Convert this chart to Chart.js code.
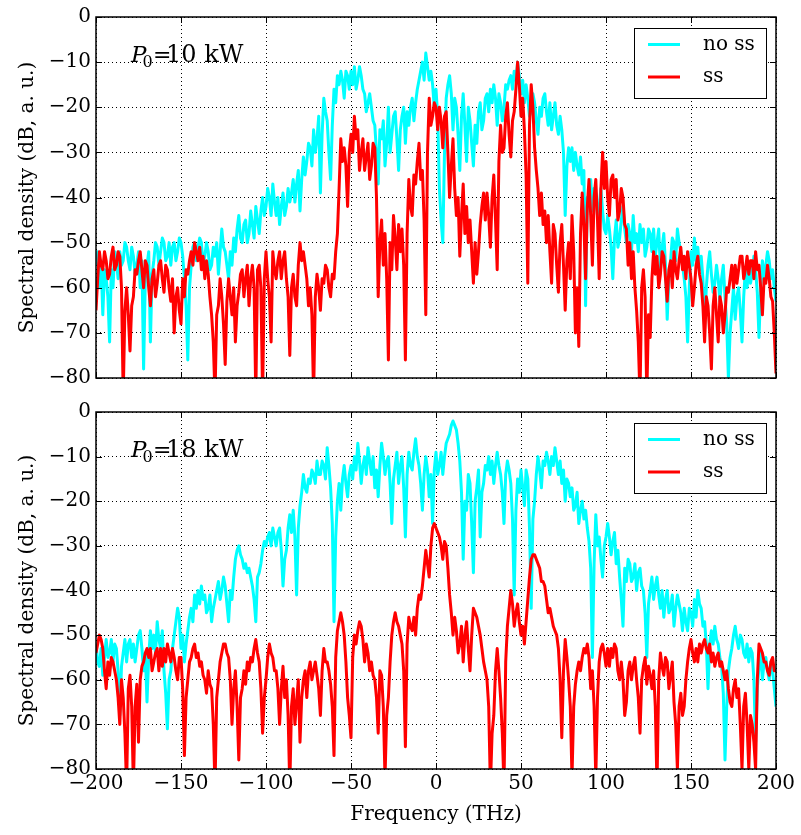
<!DOCTYPE html>
<html>
<head>
<meta charset="utf-8">
<script src="https://cdn.jsdelivr.net/npm/chart.js@4.4.0/dist/chart.umd.min.js"></script>
<style>
  html, body { margin: 0; padding: 0; background: #fff; }
  #wrap { position: relative; width: 801px; height: 835px; }
  canvas { position: absolute; left: 0; }
  #top { top: 0; }
  #bottom { top: 395px; }
</style>
</head>
<body>
<div id="wrap">
  <canvas id="top" width="801" height="395"></canvas>
  <canvas id="bottom" width="801" height="440"></canvas>
</div>
<script>
/* ------------------------------------------------------------
   DATA  (dB, every 1 THz, -200 .. 200)
   one row = 10 THz
------------------------------------------------------------ */
const freqTHz = [];
for (let f = -200; f <= 200; f++) freqTHz.push(f);

const xTicks = [-200, -150, -100, -50, 0, 50, 100, 150, 200];
const yTicks = [0, -10, -20, -30, -40, -50, -60, -70, -80];
const seriesNames = ["no ss", "ss"];
const powerLabels = ["10 kW", "18 kW"];

// P0 = 10 kW, without self-steepening
const noSS10kW = [
  -55, -52, -60, -54, -66, -56, -58, -62, -72, -56,
  -60, -52, -54, -58, -52, -55, -54, -50, -51, -54,
  -56, -51, -53, -57, -55, -52, -60, -54, -78, -58,
  -55, -52, -72, -57, -54, -50, -51, -55, -52, -49,
  -50, -54, -53, -50, -55, -51, -50, -54, -52, -49,
  -50, -53, -58, -64, -76, -60, -55, -51, -50, -54,
  -51, -49, -50, -55, -53, -50, -52, -56, -55, -51,
  -53, -50, -57, -52, -47, -51, -52, -55, -58, -52,
  -55, -49, -52, -47, -44, -49, -50, -46, -45, -50,
  -48, -43, -46, -49, -42, -45, -48, -43, -40, -44,
  -42, -38, -40, -44, -37, -41, -44, -40, -46, -42,
  -39, -44, -42, -38, -41, -39, -36, -41, -37, -34,
  -43, -36, -31, -35, -32, -28, -29, -33, -25, -30,
  -27, -22, -39, -26, -18, -21, -23, -30, -36, -24,
  -16, -19, -13, -15, -12, -14, -18, -12, -13, -16,
  -12, -15, -11, -16, -14, -11, -13, -16, -17, -21,
  -19, -17, -20, -23, -24, -30, -37, -25, -27, -23,
  -33, -28, -20, -30, -26, -22, -21, -27, -34, -25,
  -22, -20, -28, -21, -24, -20, -18, -23, -19, -16,
  -14, -12, -10, -14, -8, -11, -14, -12, -15, -20,
  -16, -22, -38, -45, -50, -30, -18, -15, -13, -17,
  -25, -18, -20, -26, -34, -22, -17, -24, -32, -20,
  -23, -28, -33, -24, -28, -21, -19, -25, -23, -18,
  -17, -21, -16, -19, -15, -18, -24, -17, -19, -23,
  -20, -15, -16, -14, -13, -16, -12, -14, -10, -13,
  -17, -14, -19, -15, -18, -22, -21, -17, -19, -23,
  -26, -20, -22, -18, -17, -21, -24, -19, -25, -22,
  -19, -24, -26, -22, -25, -30, -44, -33, -29, -32,
  -29, -34, -30, -33, -35, -31, -37, -34, -64, -40,
  -41, -36, -43, -38, -39, -44, -42, -38, -43, -47,
  -48, -44, -47, -51, -58, -49, -45, -51, -49, -45,
  -42, -47, -50, -46, -48, -52, -44, -50, -48, -52,
  -46, -50, -47, -53, -51, -47, -48, -52, -47, -53,
  -50, -47, -56, -51, -48, -55, -67, -58, -54, -49,
  -50, -54, -47, -50, -52, -55, -58, -62, -72, -60,
  -52, -55, -49, -54, -51, -56, -53, -58, -69, -60,
  -55, -52, -57, -61, -59, -55, -58, -63, -58, -55,
  -62, -68, -80, -70, -65, -60, -67, -62, -60, -65,
  -72, -62, -56, -60, -55, -59, -57, -53, -56, -61,
  -71, -60, -54, -58, -55, -52, -54, -58, -56, -60,
  -63
];

// P0 = 10 kW, with self-steepening
const ss10kW = [
  -65, -58, -52, -55, -56, -52, -54, -58, -57, -53,
  -51, -56, -55, -52, -53, -60, -84, -65, -60, -66,
  -74, -64, -62, -56, -57, -54, -52, -56, -60, -54,
  -55, -60, -64, -58, -56, -62, -59, -55, -54, -58,
  -61, -55, -56, -60, -63, -58, -70, -62, -60, -65,
  -68, -58, -62, -56, -57, -54, -52, -55, -50, -52,
  -54, -51, -56, -53, -58, -54, -57, -62, -66, -72,
  -84, -66, -64, -58, -62, -68, -77, -63, -58, -62,
  -66, -60, -72, -64, -61, -57, -56, -62, -58, -55,
  -64, -58, -55, -60, -84, -56, -55, -60, -84, -58,
  -52, -58, -62, -72, -52, -56, -58, -54, -52, -58,
  -54, -52, -58, -62, -75, -60, -57, -62, -64, -55,
  -50, -54, -52, -55, -58, -64, -60, -66, -84, -62,
  -57, -60, -65, -58, -59, -55, -56, -60, -62, -57,
  -58, -52, -48, -38, -27, -32, -29, -33, -42, -30,
  -26, -30, -22, -27, -25, -34, -30, -27, -34, -31,
  -28, -36, -33, -28, -29, -40, -62, -50, -45, -55,
  -48, -58, -76, -50, -56, -44, -49, -56, -46, -52,
  -47, -55, -76, -48, -36, -42, -44, -35, -37, -32,
  -28, -36, -34, -45, -66, -30, -18, -24, -22, -19,
  -20, -25, -20, -23, -29, -22, -21, -30, -40, -33,
  -27, -38, -44, -40, -53, -44, -37, -48, -42, -50,
  -45, -52, -59, -50, -57, -52, -46, -42, -39, -45,
  -39, -44, -51, -40, -35, -45, -56, -32, -24, -30,
  -29, -22, -19, -26, -31, -23, -21, -16, -10, -15,
  -22, -18, -25, -35, -59, -24, -15, -20, -29, -34,
  -38, -44, -39, -46, -43, -50, -44, -52, -59, -46,
  -48, -55, -61, -50, -46, -55, -65, -54, -50, -58,
  -44, -52, -70, -60, -73, -48, -39, -46, -58, -42,
  -36, -44, -55, -40, -36, -45, -58, -38, -30, -38,
  -32, -40, -44, -36, -35, -40, -36, -45, -43, -38,
  -40, -46, -47, -55, -50, -58, -52, -60, -65, -72,
  -84, -60, -56, -62, -84, -66, -71, -58, -52, -57,
  -53, -60, -57, -52, -53, -58, -63, -56, -54, -60,
  -52, -56, -58, -54, -51, -56, -53, -58, -52, -55,
  -58, -64, -60, -55, -53, -57, -59, -64, -72, -62,
  -64, -70, -78, -64, -60, -66, -72, -62, -64, -70,
  -66, -60, -61, -58, -55, -60, -55, -59, -56, -53,
  -53, -58, -56, -53, -57, -54, -54, -58, -52, -56,
  -55, -60, -66, -58, -59, -55, -58, -62, -63, -70,
  -79
];

// P0 = 18 kW, without self-steepening
const noSS18kW = [
  -52, -56, -57, -53, -59, -55, -51, -55, -54, -51,
  -56, -52, -53, -58, -68, -57, -54, -51, -56, -52,
  -51, -55, -52, -56, -53, -50, -49, -53, -58, -54,
  -65, -55, -49, -53, -50, -54, -47, -51, -53, -49,
  -58, -63, -71, -60, -58, -53, -50, -47, -44, -46,
  -53, -50, -56, -52, -49, -46, -44, -47, -41, -44,
  -40, -43, -39, -42, -41, -45, -44, -41, -47, -44,
  -42, -40, -38, -42, -40, -37, -39, -43, -47, -40,
  -42, -37, -33, -31, -30, -32, -33, -35, -34, -36,
  -35, -37, -39, -42, -47, -37, -36, -34, -31, -29,
  -30, -28, -27, -30, -26, -28, -30, -27, -26, -31,
  -39, -33, -31, -26, -23, -27, -22, -28, -41, -26,
  -21, -18, -14, -17, -18, -15, -16, -13, -14, -16,
  -11, -14, -14, -11, -12, -15, -8, -12, -17, -25,
  -47, -28, -20, -16, -22, -15, -12, -16, -19, -14,
  -12, -15, -10, -13, -7, -11, -16, -12, -10, -14,
  -8, -11, -14, -10, -17, -13, -19, -12, -7, -10,
  -14, -11, -10, -16, -25, -15, -12, -9, -16, -12,
  -10, -17, -28, -14, -9, -12, -13, -9, -6, -10,
  -12, -16, -22, -14, -10, -13, -19, -14, -25, -13,
  -9, -14, -12, -9, -14, -10, -7, -6, -5, -3,
  -2, -3, -4, -7, -11, -18, -33, -20, -22, -14,
  -16, -25, -36, -20, -17, -13, -28, -18, -16, -12,
  -13, -10, -14, -11, -16, -12, -9, -12, -14, -18,
  -25, -14, -11, -13, -16, -24, -41, -22, -15, -18,
  -13, -17, -21, -13, -15, -26, -44, -24, -20, -14,
  -10, -13, -17, -11, -12, -9, -11, -14, -10, -12,
  -8, -11, -14, -11, -16, -13, -20, -15, -16, -19,
  -17, -22, -21, -18, -25, -22, -20, -24, -22, -26,
  -29, -35, -55, -34, -23, -30, -28, -33, -37, -30,
  -28, -25, -28, -32, -29, -27, -34, -31, -37, -42,
  -48, -35, -38, -33, -34, -38, -37, -34, -40, -36,
  -35, -39, -40, -45, -55, -43, -40, -37, -42, -39,
  -37, -41, -44, -40, -46, -42, -40, -45, -44, -41,
  -48, -44, -41, -43, -45, -49, -44, -47, -49, -44,
  -45, -48, -42, -46, -40, -43, -44, -48, -47, -52,
  -62, -52, -49, -52, -48, -51, -52, -55, -57, -63,
  -78, -66, -58, -55, -53, -50, -48, -51, -53, -50,
  -51, -54, -55, -52, -56, -53, -54, -60, -74, -62,
  -57, -54, -60, -56, -55, -58, -60, -56, -58, -62,
  -66
];

// P0 = 18 kW, with self-steepening
const ss18kW = [
  -54, -52, -50, -51, -53, -58, -62, -56, -59, -55,
  -56, -58, -60, -64, -70, -60, -64, -72, -84, -62,
  -59, -66, -84, -66, -61, -74, -60, -57, -56, -54,
  -53, -55, -53, -58, -56, -54, -53, -58, -53, -57,
  -53, -56, -52, -54, -56, -53, -55, -58, -60, -55,
  -55, -62, -77, -64, -60, -56, -55, -53, -52, -55,
  -54, -57, -56, -59, -60, -63, -58, -61, -62, -70,
  -84, -64, -60, -56, -54, -52, -52, -54, -55, -60,
  -70, -62, -58, -66, -78, -64, -62, -58, -61, -56,
  -58, -55, -56, -53, -51, -54, -56, -62, -72, -64,
  -60, -55, -52, -54, -55, -58, -58, -62, -70, -62,
  -57, -64, -60, -68, -84, -66, -62, -70, -65, -60,
  -74, -64, -60, -58, -64, -58, -56, -60, -58, -56,
  -59, -62, -68, -58, -53, -56, -56, -58, -61, -66,
  -77, -55, -49, -47, -45, -47, -50, -56, -64, -68,
  -73, -55, -50, -52, -49, -47, -48, -51, -56, -52,
  -54, -58, -56, -59, -60, -64, -72, -58, -59, -66,
  -82, -68, -64, -56, -50, -47, -45, -47, -48, -50,
  -52, -58, -75, -52, -46, -48, -49, -46, -50, -44,
  -41, -42, -39, -35, -31, -34, -37, -30, -26, -25,
  -26, -27, -28, -30, -33, -29, -30, -35, -41, -45,
  -50, -46, -49, -54, -52, -48, -56, -50, -47, -53,
  -58, -50, -44, -45, -46, -48, -50, -53, -56, -58,
  -60, -66, -84, -72, -68, -58, -53, -58, -64, -72,
  -84, -56, -48, -44, -40, -43, -48, -45, -43, -47,
  -50, -48, -52, -47, -42, -37, -33, -32, -32, -33,
  -34, -35, -38, -38, -39, -42, -45, -44, -46, -48,
  -49, -50, -53, -60, -73, -58, -51, -55, -60, -66,
  -82, -66, -61, -58, -56, -58, -55, -53, -54, -52,
  -55, -62, -58, -66, -82, -64, -56, -53, -52, -54,
  -57, -53, -57, -53, -55, -52, -53, -58, -60, -56,
  -60, -68, -65, -58, -56, -60, -57, -55, -60, -64,
  -72, -60, -57, -55, -61, -57, -59, -62, -58, -66,
  -84, -60, -54, -57, -59, -55, -56, -62, -59, -56,
  -65, -70, -80, -66, -63, -68, -66, -60, -56, -53,
  -51, -54, -56, -53, -56, -52, -54, -52, -51, -53,
  -54, -52, -56, -54, -57, -55, -54, -57, -56, -58,
  -60, -58, -62, -65, -66, -62, -60, -64, -62, -70,
  -80, -66, -63, -70, -80, -68, -70, -74, -80, -60,
  -52, -53, -54, -56, -56, -58, -59, -56, -55, -58,
  -58
];

/* ------------------------------------------------------------
   STYLE
------------------------------------------------------------ */
const SERIF = "'DejaVu Serif', serif";
const CYAN = "#00ffff";
const RED = "#ff0000";

function fmtTick(v) {
  return v < 0 ? "\u2212" + Math.abs(v) : String(v);
}

/* ------------------------------------------------------------
   FRAME, INWARD TICKS, LEGEND BOX, POWER LABEL
------------------------------------------------------------ */
function decorPlugin(power) {
  return {
    id: "decor",
    afterDraw(chart) {
      const { ctx, chartArea: a, scales } = chart;
      ctx.save();

      // inward tick marks on all four sides
      ctx.strokeStyle = "#000";
      ctx.lineWidth = 1;
      ctx.beginPath();
      xTicks.forEach(v => {
        const px = Math.round(scales.x.getPixelForValue(v)) + 0.5;
        ctx.moveTo(px, a.bottom); ctx.lineTo(px, a.bottom - 6);
        ctx.moveTo(px, a.top); ctx.lineTo(px, a.top + 6);
      });
      yTicks.forEach(v => {
        const py = Math.round(scales.y.getPixelForValue(v)) + 0.5;
        ctx.moveTo(a.left, py); ctx.lineTo(a.left + 6, py);
        ctx.moveTo(a.right, py); ctx.lineTo(a.right - 6, py);
      });
      ctx.stroke();

      // frame
      ctx.lineWidth = 1.5;
      ctx.strokeRect(a.left, a.top, a.right - a.left, a.bottom - a.top);

      // legend box
      const bx = a.right - 142, by = a.top + 11, bw = 132, bh = 70;
      ctx.fillStyle = "#fff";
      ctx.fillRect(bx, by, bw, bh);
      ctx.lineWidth = 1;
      ctx.strokeRect(bx + 0.5, by + 0.5, bw, bh);
      [CYAN, RED].forEach((col, i) => {
        const ry = by + 16.5 + i * 32.5;
        ctx.strokeStyle = col;
        ctx.lineWidth = 3;
        ctx.beginPath();
        ctx.moveTo(bx + 14, ry); ctx.lineTo(bx + 46, ry);
        ctx.stroke();
        ctx.fillStyle = "#000";
        ctx.font = "20px " + SERIF;
        ctx.textBaseline = "middle";
        ctx.textAlign = "left";
        ctx.fillText(seriesNames[i], bx + 69, ry);
      });

      // P0 = ... label
      const tx = a.left + 35, ty = a.top + 45;
      ctx.fillStyle = "#000";
      ctx.textBaseline = "alphabetic";
      ctx.font = "italic 23px " + SERIF;
      ctx.fillText("P", tx, ty);
      ctx.font = "16px " + SERIF;
      ctx.fillText("0", tx + 11.5, ty + 5);
      ctx.font = "22px " + SERIF;
      ctx.fillText("=", tx + 22, ty);
      ctx.font = "24px " + SERIF;
      ctx.fillText(power, tx + 35, ty);

      ctx.restore();
    }
  };
}

/* ------------------------------------------------------------
   ONE PANEL
------------------------------------------------------------ */
function makePanel(id, noSS, ss, power, showX) {
  const toXY = arr => freqTHz.map((f, i) => ({ x: f, y: arr[i] }));

  return new Chart(document.getElementById(id), {
    type: "line",
    data: {
      datasets: [
        {
          label: seriesNames[0],
          data: toXY(noSS),
          borderColor: CYAN,
          borderWidth: 3,
          borderJoinStyle: "round",
          pointRadius: 0,
          fill: false,
          order: 2
        },
        {
          label: seriesNames[1],
          data: toXY(ss),
          borderColor: RED,
          borderWidth: 3,
          borderJoinStyle: "round",
          pointRadius: 0,
          fill: false,
          order: 1
        }
      ]
    },
    options: {
      responsive: false,
      animation: false,
      events: [],
      layout: { padding: { left: 0, right: 25, top: showX ? 12 : 16, bottom: 0 } },
      plugins: { legend: { display: false }, tooltip: { enabled: false } },
      scales: {
        x: {
          type: "linear",
          min: -200,
          max: 200,
          afterBuildTicks: s => { s.ticks = xTicks.map(v => ({ value: v })); },
          afterFit: s => { s.height = showX ? 66 : 15; },
          ticks: {
            display: showX,
            padding: 3,
            maxRotation: 0,
            color: "#000",
            font: { family: SERIF, size: 20 },
            callback: fmtTick
          },
          grid: { color: "#000", lineWidth: 1, drawTicks: false },
          border: { display: false, dash: [1, 3] },
          title: {
            display: showX,
            text: "Frequency (THz)",
            color: "#000",
            font: { family: SERIF, size: 20 },
            padding: { top: 0, bottom: 8 }
          }
        },
        y: {
          min: -80,
          max: 0,
          afterBuildTicks: s => { s.ticks = yTicks.map(v => ({ value: v })); },
          afterFit: s => { s.width = 96; },
          ticks: {
            padding: 5,
            color: "#000",
            font: { family: SERIF, size: 20 },
            callback: fmtTick
          },
          grid: { color: "#000", lineWidth: 1, drawTicks: false },
          border: { display: false, dash: [1, 3] },
          title: {
            display: true,
            text: "Spectral density (dB, a. u.)",
            color: "#000",
            font: { family: SERIF, size: 20 },
            padding: { top: 16, bottom: 0 }
          }
        }
      }
    },
    plugins: [decorPlugin(power)]
  });
}

makePanel("top", noSS10kW, ss10kW, powerLabels[0], false);
makePanel("bottom", noSS18kW, ss18kW, powerLabels[1], true);
</script>
</body>
</html>
